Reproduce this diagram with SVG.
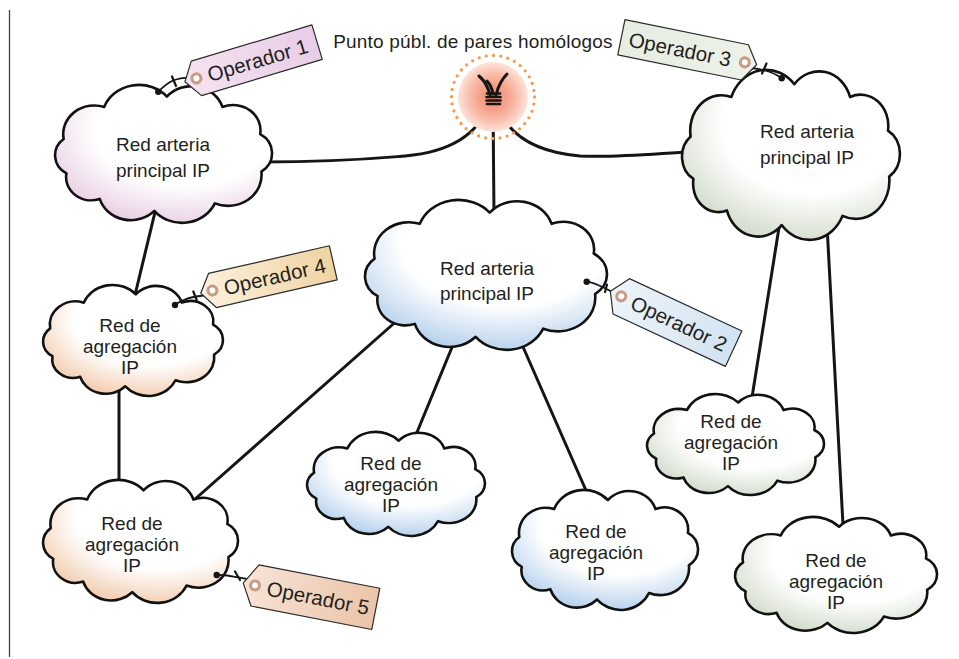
<svg xmlns="http://www.w3.org/2000/svg" xmlns:xlink="http://www.w3.org/1999/xlink" width="959" height="659" viewBox="0 0 959 659">
<style>
.lbl{font-family:"Liberation Sans",Arial,Helvetica,sans-serif;font-size:19px;fill:#231f20;text-anchor:middle}
.ttl{font-family:"Liberation Sans",Arial,Helvetica,sans-serif;font-size:19px;fill:#231f20;text-anchor:middle;letter-spacing:0.2px}
.tt{font-family:"Liberation Sans",Arial,Helvetica,sans-serif;font-size:20.5px;fill:#231f20}
.con{fill:none;stroke:#151515;stroke-width:3;stroke-linecap:round}
.cloud{stroke:#111;stroke-width:2.6;stroke-linejoin:round}
.tag{stroke:#2a2a2a;stroke-width:1.2;stroke-linejoin:round}
.hole{fill:#fff;stroke:#c99a84;stroke-width:3}
.str{fill:none;stroke:#151515;stroke-width:1.8;stroke-linecap:round}
.tick{stroke:#151515;stroke-width:2.2;stroke-linecap:round}
.coil{stroke:#151515;stroke-width:2.7;stroke-linecap:round}
</style>
<defs>
<path id="cl" class="cloud" vector-effect="non-scaling-stroke" d="M16.9,51.5 A26,26 0 0 1 50.7,22.4 A31,31 0 0 1 103,13 A27,27 0 0 1 149.3,22.4 A23,23 0 0 1 180.8,47.2 A20,20 0 0 1 181.8,81.1 A28,28 0 0 1 143,110 A30,30 0 0 1 92.5,116.8 A27,27 0 0 1 47,106 A21,21 0 0 1 19.2,82.8 A19,19 0 0 1 16.9,51.5 Z"/>
<radialGradient id="gPink" cx="0.6" cy="0.32" r="0.75"><stop offset="0" stop-color="#fff"/><stop offset="0.55" stop-color="#fff"/><stop offset="1" stop-color="#e6c8e1"/></radialGradient>
<radialGradient id="gGreen" cx="0.6" cy="0.32" r="0.75"><stop offset="0" stop-color="#fff"/><stop offset="0.55" stop-color="#fff"/><stop offset="1" stop-color="#cbd6c4"/></radialGradient>
<radialGradient id="gBlue" cx="0.58" cy="0.28" r="0.78"><stop offset="0" stop-color="#fff"/><stop offset="0.55" stop-color="#fff"/><stop offset="1" stop-color="#abcaea"/></radialGradient>
<radialGradient id="gOrange" cx="0.6" cy="0.3" r="0.78"><stop offset="0" stop-color="#fff"/><stop offset="0.55" stop-color="#fff"/><stop offset="1" stop-color="#f0c29f"/></radialGradient>
<radialGradient id="glow" cx="0.5" cy="0.5" r="0.5"><stop offset="0" stop-color="#f48d74"/><stop offset="0.4" stop-color="#f6a28a"/><stop offset="0.7" stop-color="#f9c0ae"/><stop offset="1" stop-color="#fde4db"/></radialGradient>
<linearGradient id="t1" x1="0" x2="1"><stop offset="0" stop-color="#f4e3f1"/><stop offset="1" stop-color="#e8cde6"/></linearGradient>
<linearGradient id="t2" x1="0" x2="1"><stop offset="0" stop-color="#eef4fa"/><stop offset="1" stop-color="#d3e3f2"/></linearGradient>
<linearGradient id="t3" x1="0" x2="1"><stop offset="0" stop-color="#e6ede1"/><stop offset="1" stop-color="#eef2ea"/></linearGradient>
<linearGradient id="t4" x1="0" x2="1"><stop offset="0" stop-color="#fbf1dd"/><stop offset="1" stop-color="#f0d3a2"/></linearGradient>
<linearGradient id="t5" x1="0" x2="1"><stop offset="0" stop-color="#f7e4d6"/><stop offset="1" stop-color="#ebc4a9"/></linearGradient>
</defs>

<line x1="9.5" y1="10" x2="9.5" y2="657" stroke="#444" stroke-width="1.3"/>

<text class="ttl" x="473" y="48">Punto públ. de pares homólogos</text>

<g id="connectors">
<path class="con" d="M262,162 C340,162 380,158 405,156 C450,152 478,135 489,104"/>
<path class="con" d="M493,104 L494,215"/>
<path class="con" d="M497,104 C507,135 535,152 580,156 C620,158 660,153 705,151"/>
<path class="con" d="M156,208 L135,295"/>
<path class="con" d="M119,385 L119,485"/>
<path class="con" d="M400,318 L185,508"/>
<path class="con" d="M455,340 L413,442"/>
<path class="con" d="M520,340 L588,495"/>
<path class="con" d="M781,215 L750,410"/>
<path class="con" d="M827,225 L843,525"/>
</g>

<g id="peering-point">
<circle cx="493" cy="97" r="35" fill="url(#glow)"/>
<circle cx="493" cy="97" r="41.5" fill="none" stroke="#f39a4c" stroke-width="3.3" stroke-linecap="round" stroke-dasharray="0 7.25"/>
<path class="con" d="M490,95 C488,87 485,81 479,76"/>
<path class="con" d="M496,95 C498,87 502,79 507,74"/>
<path class="con" d="M493,94 C492,88 490,84 487,81"/>
<line class="coil" x1="487" y1="93.5" x2="500" y2="93.5"/>
<line class="coil" x1="486.5" y1="97" x2="500.5" y2="97"/>
<line class="coil" x1="486.5" y1="100.5" x2="500.5" y2="100.5"/>
<line class="coil" x1="487" y1="104" x2="500" y2="104"/>
</g>

<g id="cloud-op1">
<use xlink:href="#cl" href="#cl" fill="url(#gPink)" transform="translate(43.4,82.25) scale(1.199,1.101)"/>
<text class="lbl" x="163" y="151">Red arteria</text>
<text class="lbl" x="163" y="177">principal IP</text>
</g>

<g id="cloud-op3">
<use xlink:href="#cl" href="#cl" fill="url(#gGreen)" transform="translate(670.3,66.6) scale(1.204,1.357)"/>
<text class="lbl" x="807" y="138">Red arteria</text>
<text class="lbl" x="807" y="164">principal IP</text>
</g>

<g id="cloud-op2">
<use xlink:href="#cl" href="#cl" fill="url(#gBlue)" transform="translate(352,197) scale(1.337,1.197)"/>
<text class="lbl" x="487" y="275">Red arteria</text>
<text class="lbl" x="487" y="300">principal IP</text>
</g>

<g id="cloud-op4">
<use xlink:href="#cl" href="#cl" fill="url(#gOrange)" transform="translate(33.4,282.8) scale(0.994,0.886)"/>
<text class="lbl" x="130" y="332">Red de</text>
<text class="lbl" x="130" y="353">agregación</text>
<text class="lbl" x="130" y="374">IP</text>
</g>

<g id="cloud-op5">
<use xlink:href="#cl" href="#cl" fill="url(#gOrange)" transform="translate(32.6,477.5) scale(1.077,0.982)"/>
<text class="lbl" x="132" y="530">Red de</text>
<text class="lbl" x="132" y="551">agregación</text>
<text class="lbl" x="132" y="572">IP</text>
</g>

<g id="cloud-agg-b1">
<use xlink:href="#cl" href="#cl" fill="url(#gBlue)" transform="translate(297.5,429.9) scale(0.983,0.83)"/>
<text class="lbl" x="391" y="470">Red de</text>
<text class="lbl" x="391" y="491">agregación</text>
<text class="lbl" x="391" y="512">IP</text>
</g>

<g id="cloud-agg-b2">
<use xlink:href="#cl" href="#cl" fill="url(#gBlue)" transform="translate(502,487.6) scale(1.028,0.958)"/>
<text class="lbl" x="596" y="538">Red de</text>
<text class="lbl" x="596" y="559">agregación</text>
<text class="lbl" x="596" y="580">IP</text>
</g>

<g id="cloud-agg-g1">
<use xlink:href="#cl" href="#cl" fill="url(#gGreen)" transform="translate(637.5,392) scale(0.978,0.806)"/>
<text class="lbl" x="731" y="428">Red de</text>
<text class="lbl" x="731" y="449">agregación</text>
<text class="lbl" x="731" y="470">IP</text>
</g>

<g id="cloud-agg-g2">
<use xlink:href="#cl" href="#cl" fill="url(#gGreen)" transform="translate(724.2,514.7) scale(1.116,0.926)"/>
<text class="lbl" x="836" y="567">Red de</text>
<text class="lbl" x="836" y="588">agregación</text>
<text class="lbl" x="836" y="609">IP</text>
</g>

<g id="tag-op1">
<path class="str" d="M196,78 C186,77 177,79 172,81 C166,84 162,88 158.3,91.7"/>
<line class="tick" x1="172" y1="76.5" x2="176" y2="86"/>
<circle cx="158.3" cy="91.7" r="3.2" fill="#151515"/>
<g transform="translate(251,62) rotate(-16.7)">
<path class="tag" fill="url(#t1)" d="M-69,0 L-57,-18 L69,-18 L69,18 L-57,18 Z"/>
<circle class="hole" cx="-57" cy="0" r="4.5"/>
<text class="tt" x="-45" y="7.5">Operador 1</text>
</g>
</g>

<g id="tag-op3">
<path class="str" d="M745,68 C755,68 765,70 770,72 C775,74 779,76 781.7,78.3"/>
<line class="tick" x1="766.5" y1="63.5" x2="762" y2="73.5"/>
<circle cx="781.7" cy="78.3" r="3.2" fill="#151515"/>
<g transform="translate(689,51) rotate(11.5)">
<path class="tag" fill="url(#t3)" d="M69,0 L57,-18 L-69,-18 L-69,18 L57,18 Z"/>
<circle class="hole" cx="57" cy="0" r="4.5"/>
<text class="tt" x="-61" y="7.5">Operador 3</text>
</g>
</g>

<g id="tag-op4">
<path class="str" d="M211,295 C200,295 188,298 184,300 C180,302 177,303 175,305"/>
<line class="tick" x1="193.3" y1="291.5" x2="196.7" y2="300"/>
<circle cx="175" cy="305" r="3.2" fill="#151515"/>
<g transform="translate(267,278) rotate(-12.9)">
<path class="tag" fill="url(#t4)" d="M-68,0 L-56,-17.5 L68,-17.5 L68,17.5 L-56,17.5 Z"/>
<circle class="hole" cx="-56" cy="0" r="4.5"/>
<text class="tt" x="-44" y="7.5">Operador 4</text>
</g>
</g>

<g id="tag-op2">
<path class="str" d="M621,296 C612,292 603,287 598,285 C593,283 590,282 586.7,281.7"/>
<line class="tick" x1="607" y1="284.5" x2="605" y2="292"/>
<circle cx="586.7" cy="281.7" r="3.2" fill="#151515"/>
<g transform="translate(672,320) rotate(25)">
<path class="tag" fill="url(#t2)" d="M-68,0 L-56,-19.5 L68,-19.5 L68,19.5 L-56,19.5 Z"/>
<circle class="hole" cx="-56" cy="0" r="4.5"/>
<text class="tt" x="-44" y="7.5">Operador 2</text>
</g>
</g>

<g id="tag-op5">
<path class="str" d="M254,581 C245,578 236,577 230,576 C225,575 220,575 216.7,575"/>
<line class="tick" x1="235" y1="571.5" x2="240" y2="580"/>
<circle cx="216.7" cy="575" r="3.2" fill="#151515"/>
<g transform="translate(309.5,596) rotate(11)">
<path class="tag" fill="url(#t5)" d="M-67.5,0 L-55.5,-21 L67.5,-21 L67.5,21 L-55.5,21 Z"/>
<circle class="hole" cx="-55.5" cy="0" r="4.5"/>
<text class="tt" x="-43" y="7.5">Operador 5</text>
</g>
</g>
</svg>
